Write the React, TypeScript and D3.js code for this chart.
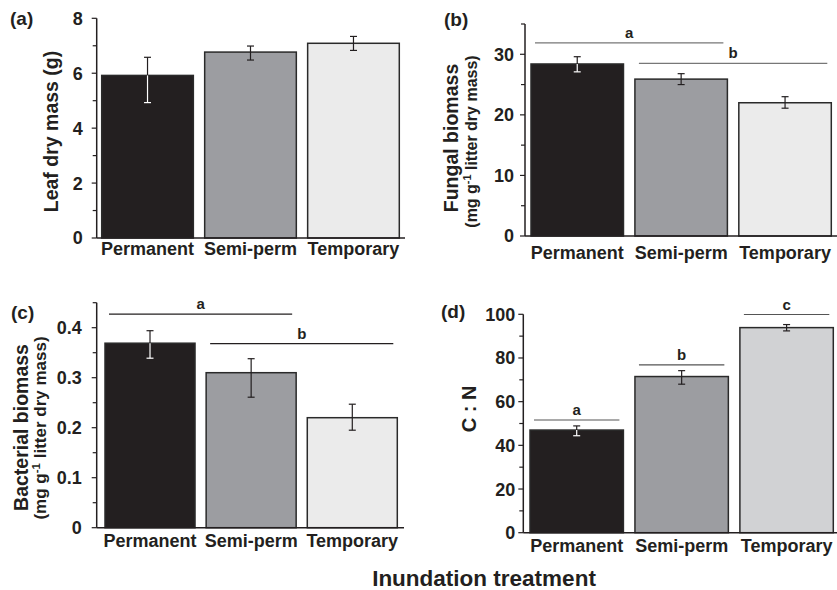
import React from "react";
import * as d3 from "d3";

// treatments (x categories)
const categories = ["Permanent", "Semi-perm", "Temporary"];

// (a) leaf dry mass (g)
const leafMass = [5.92, 6.77, 7.09];
const leafMassLo = [4.93, 6.48, 6.83];
const leafMassHi = [6.58, 6.99, 7.34];

// (b) fungal biomass (mg g-1 litter dry mass)
const fungal = [28.4, 25.9, 22.0];
const fungalLo = [27.1, 25.0, 21.1];
const fungalHi = [29.6, 26.8, 23.0];
const fungalSig = [
  { label: "a", first: 0, last: 1, level: 31.9 },
  { label: "b", first: 1, last: 2, level: 28.5 },
];

// (c) bacterial biomass
const bacterial = [0.369, 0.31, 0.22];
const bacterialLo = [0.339, 0.261, 0.195];
const bacterialHi = [0.394, 0.338, 0.247];
const bacterialSig = [
  { label: "a", first: 0, last: 1, level: 0.427 },
  { label: "b", first: 1, last: 2, level: 0.368 },
];

// (d) C:N ratio
const cn = [47.0, 71.5, 93.9];
const cnLo = [44.4, 68.0, 92.4];
const cnHi = [48.9, 74.2, 95.3];
const cnSig = [
  { label: "a", first: 0, last: 0, level: 51.6 },
  { label: "b", first: 1, last: 1, level: 76.8 },
  { label: "c", first: 2, last: 2, level: 99.9 },
];

// tick values
const leafMajor = [0, 2, 4, 6, 8];
const leafMinor = [1, 3, 5, 7];
const fungalMajor = [0, 10, 20, 30];
const fungalMinor = [5, 15, 25, 35];
const bacterialMajor = [0, 0.1, 0.2, 0.3, 0.4];
const bacterialMinor = [0.05, 0.15, 0.25, 0.35, 0.45];
const cnMajor = [0, 20, 40, 60, 80, 100];
const cnMinor = [10, 30, 50, 70, 90];

const FONT = "'Liberation Sans', Arial, Helvetica, sans-serif";
const fillsLight = ["#231f20", "#9c9da1", "#ebebeb"];
const fillsD = ["#231f20", "#9c9da1", "#d1d2d4"];

type Sig = { label: string; first: number; last: number; level: number };

type PanelProps = {
  tag: string;
  tagX: number;
  tagY: number;
  values: number[];
  lo: number[];
  hi: number[];
  max: number;
  major: number[];
  minor: number[];
  fmt: (v: number) => string;
  axisX: number;
  y0: number;
  yTop: number;
  barStart: number;
  barEnd: number;
  xEnd: number;
  fills: string[];
  sig?: Sig[];
  sigColor?: string;
  labelGap: number;
  catY: number;
  title: string;
  titleX: number;
  titleY: number;
  titleSize: number;
  sub?: boolean;
  subX?: number;
  subY?: number;
  subSize?: number;
};

const Panel = (p: PanelProps) => {
  const y = d3.scaleLinear().domain([0, p.max]).range([p.y0, p.yTop]);
  const x = d3
    .scaleBand<string>()
    .domain(categories)
    .range([p.barStart, p.barEnd])
    .paddingInner(0.11)
    .paddingOuter(0);
  const bw = x.bandwidth();
  return (
    <g fontFamily={FONT} fontWeight="bold" fill="#231f20">
      <text x={p.tagX} y={p.tagY} fontSize={19}>{p.tag}</text>

      {/* bars */}
      {categories.map((c, i) => (
        <rect
          key={c}
          x={x(c)}
          y={y(p.values[i])}
          width={bw}
          height={p.y0 - y(p.values[i])}
          fill={p.fills[i]}
          stroke="#2a2a2a"
          strokeWidth={1.5}
        />
      ))}

      {/* error bars */}
      {categories.map((c, i) => {
        const cx = (x(c) as number) + bw / 2;
        const top = y(p.values[i]);
        const dark = i === 0;
        return (
          <g key={c} strokeWidth={1.2}>
            <line x1={cx} x2={cx} y1={y(p.hi[i])} y2={top} stroke="#231f20" />
            <line x1={cx - 3.5} x2={cx + 3.5} y1={y(p.hi[i])} y2={y(p.hi[i])} stroke="#231f20" />
            <line x1={cx} x2={cx} y1={top} y2={y(p.lo[i])} stroke={dark ? "#ffffff" : "#231f20"} />
            <line x1={cx - 3.5} x2={cx + 3.5} y1={y(p.lo[i])} y2={y(p.lo[i])} stroke={dark ? "#ffffff" : "#231f20"} />
          </g>
        );
      })}

      {/* significance lines */}
      {(p.sig || []).map((s) => {
        const x1 = (x(categories[s.first]) as number) + 4;
        const x2 = (x(categories[s.last]) as number) + bw - 4;
        return (
          <g key={s.label}>
            <line x1={x1} x2={x2} y1={y(s.level)} y2={y(s.level)} stroke={p.sigColor} strokeWidth={1.2} />
            <text x={(x1 + x2) / 2} y={y(s.level) - 5} fontSize={15} textAnchor="middle">{s.label}</text>
          </g>
        );
      })}

      {/* axes */}
      <line x1={p.axisX} x2={p.axisX} y1={p.y0} y2={y(p.max)} stroke="#231f20" strokeWidth={1.5} />
      <line x1={p.axisX} x2={p.xEnd} y1={p.y0} y2={p.y0} stroke="#231f20" strokeWidth={1.5} />
      {p.major.map((t) => (
        <g key={"M" + t}>
          <line x1={p.axisX - 5} x2={p.axisX} y1={y(t)} y2={y(t)} stroke="#231f20" strokeWidth={1.2} />
          <text x={p.axisX - p.labelGap} y={y(t)} dy="0.36em" fontSize={18} textAnchor="end">{p.fmt(t)}</text>
        </g>
      ))}
      {p.minor.map((t) => (
        <line key={"m" + t} x1={p.axisX - 4} x2={p.axisX} y1={y(t)} y2={y(t)} stroke="#231f20" strokeWidth={1.2} />
      ))}

      {categories.map((c) => (
        <text key={c} x={(x(c) as number) + bw / 2} y={p.catY} fontSize={18} textAnchor="middle">{c}</text>
      ))}

      {/* y title */}
      <text transform={`translate(${p.titleX},${p.titleY}) rotate(-90)`} fontSize={p.titleSize} textAnchor="middle">{p.title}</text>
      {p.sub && (
        <text transform={`translate(${p.subX},${p.subY}) rotate(-90)`} fontSize={p.subSize} textAnchor="middle">
          (mg g<tspan fontSize={(p.subSize || 16) * 0.68} dy="-6">-1</tspan><tspan dy="6"> litter dry mass)</tspan>
        </text>
      )}
    </g>
  );
};

const App = () => {
  const fmt1 = (v: number) => (v === 0 ? "0" : d3.format(".1f")(v));
  const fmt0 = (v: number) => String(v);
  return (
    <svg width={837} height={590} style={{ position: "absolute", left: 0, top: 0, background: "#fff" }}>
      <Panel
        tag="(a)" tagX={10} tagY={25}
        values={leafMass} lo={leafMassLo} hi={leafMassHi}
        max={8} major={leafMajor} minor={leafMinor} fmt={fmt0}
        axisX={96.7} y0={238} yTop={18.3}
        barStart={101.7} barEnd={399.3} xEnd={405}
        fills={fillsLight} labelGap={14} catY={254.5}
        title="Leaf dry mass (g)" titleX={57.5} titleY={131.5} titleSize={19.5}
      />
      <Panel
        tag="(b)" tagX={444} tagY={26}
        values={fungal} lo={fungalLo} hi={fungalHi}
        max={35} major={fungalMajor} minor={fungalMinor} fmt={fmt0}
        axisX={525} y0={236} yTop={24}
        barStart={531} barEnd={831.3} xEnd={837}
        fills={fillsLight} sig={fungalSig} sigColor="#777"
        labelGap={11} catY={259}
        title="Fungal biomass" titleX={457.5} titleY={138} titleSize={19.5}
        sub subX={477} subY={141.5} subSize={16}
      />
      <Panel
        tag="(c)" tagX={11} tagY={319}
        values={bacterial} lo={bacterialLo} hi={bacterialHi}
        max={0.45} major={bacterialMajor} minor={bacterialMinor} fmt={fmt1}
        axisX={96.7} y0={527.7} yTop={302.7}
        barStart={105} barEnd={397.3} xEnd={404}
        fills={fillsLight} sig={bacterialSig} sigColor="#231f20"
        labelGap={15} catY={547}
        title="Bacterial biomass" titleX={28} titleY={427.5} titleSize={19.5}
        sub subX={45.5} subY={428} subSize={17}
      />
      <Panel
        tag="(d)" tagX={441} tagY={318}
        values={cn} lo={cnLo} hi={cnHi}
        max={100} major={cnMajor} minor={cnMinor} fmt={fmt0}
        axisX={523.3} y0={532.7} yTop={314.3}
        barStart={530} barEnd={833.3} xEnd={837}
        fills={fillsD} sig={cnSig} sigColor="#555"
        labelGap={8} catY={552}
        title="C : N" titleX={476} titleY={409} titleSize={20}
      />
      <text x={484} y={586} fontFamily={FONT} fontWeight="bold" fontSize={22.5} textAnchor="middle" fill="#231f20">
        Inundation treatment
      </text>
    </svg>
  );
};

export default App;
